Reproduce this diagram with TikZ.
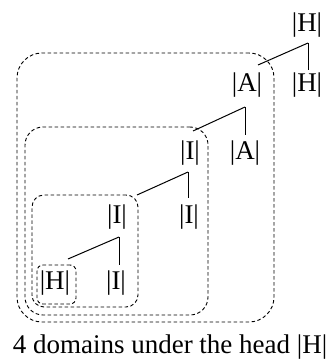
\documentclass[tikz,border=0pt]{standalone}
\usepackage{fontspec}
\setmainfont{Liberation Serif}
\usetikzlibrary{calc}
\begin{document}
\begin{tikzpicture}[x=1pt,y=-1pt,
  lab/.style={inner sep=0pt, font=\fontsize{27}{31}\selectfont},
  dom/.style={draw, line width=0.9pt, dash pattern=on 3.5pt off 2.5pt, inner sep=0pt},
  edge/.style={line width=1pt}]
\useasboundingbox (0,0) rectangle (334,363);
% domains
\node[dom, minimum width=39pt, minimum height=39pt, rounded corners=6pt] (d1) at (56.5,284.5) {};
\node[dom, minimum width=106pt, minimum height=112pt, rounded corners=12pt] (d2) at (85,251) {};
\node[dom, minimum width=183pt, minimum height=188pt, rounded corners=18pt] (d3) at (116.5,221) {};
\node[dom, minimum width=257pt, minimum height=269pt, rounded corners=25pt] (d4) at (145.5,187.5) {};
% labels
\node[lab] (root) at (307,25) {|H|};
\node[lab] (h2) at (307,85) {|H|};
\node[lab] (a1) at (247,85) {|A|};
\node[lab] (a2) at (245,153) {|A|};
\node[lab] (i1) at (190,153) {|I|};
\node[lab] (i2) at (189,217) {|I|};
\node[lab] (i3) at (117,217) {|I|};
\node[lab] (i4) at (116,283) {|I|};
\node[lab] (h3) at (55,283) {|H|};
\node[lab] (cap) at (170,347) {4 domains under the head |H|};
% edges
\draw[edge] ($(root)+(1,18)$) -- ($(h2)+(1,-15)$);
\draw[edge] ($(root)+(1,18)$) -- ($(a1)+(11,-20)$);
\draw[edge] ($(a1)+(-2,22)$) -- ($(a2)+(0,-18)$);
\draw[edge] ($(a1)+(-2,22)$) -- ($(i1)+(3,-22)$);
\draw[edge] ($(i1)+(-2,19)$) -- ($(i2)+(-1,-19)$);
\draw[edge] ($(i1)+(-2,19)$) -- ($(i3)+(20,-22)$);
\draw[edge] ($(i3)+(2,20)$) -- ($(i4)+(3,-18)$);
\draw[edge] ($(i3)+(2,20)$) -- ($(h3)+(13,-24)$);
\end{tikzpicture}
\end{document}
